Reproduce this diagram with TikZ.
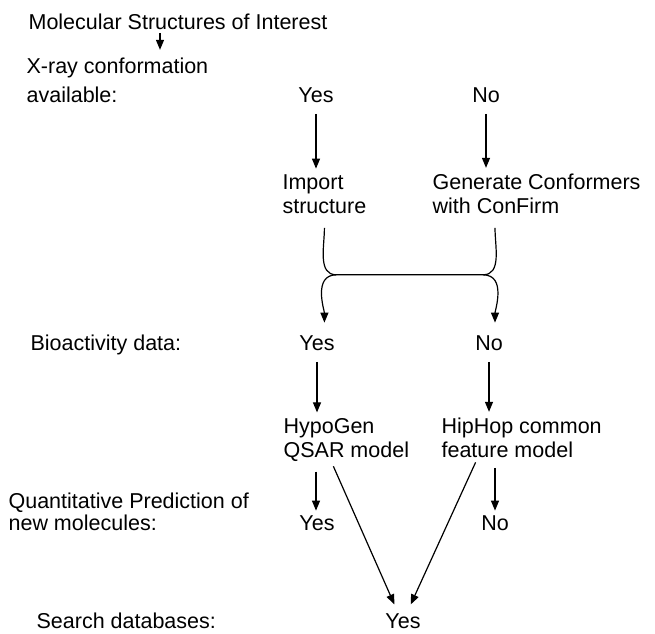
\documentclass[tikz,border=0pt]{standalone}
\usepackage{fontspec}
\setmainfont{Liberation Sans}
\usetikzlibrary{arrows.meta,positioning}

\begin{document}
\begin{tikzpicture}[x=1pt, y=-1pt, line width=1.2pt,
font=\fontsize{21.5}{24}\selectfont,
>={Triangle[length=10pt,width=8pt]},
txt/.style={inner sep=0pt, anchor=base west, align=left},
ans/.style={inner sep=0pt, anchor=base},
flow/.style={->, shorten <=11pt, shorten >=5pt}]
\useasboundingbox (0,0) rectangle (655,633);

% questions on the left (base = last line)
\node [txt] (mol) at (28,29) {Molecular Structures of Interest};
\node [txt] (xray) at (26,102) {X-ray conformation\\[5pt]available:};
\node [txt] (bio) at (30,350) {Bioactivity data:};
\node [txt] (quant) at (8,530) {Quantitative Prediction of\\[-2pt]new molecules:};
\node [txt] (search) at (36,628) {Search databases:};

% answers and steps
\node [ans] (yes1) at (316,102) {Yes};
\node [ans] (no1) at (486,102) {No};
\node [txt] (imp) at (282,213) {Import\\structure};
\node [txt] (gen) at (432,213) {Generate Conformers\\with ConFirm};
\node [ans] (yes2) at (317,350) {Yes};
\node [ans] (no2) at (489,350) {No};
\node [txt] (hypo) at (283,457) {HypoGen\\QSAR model};
\node [txt] (hip) at (441,457) {HipHop common\\feature model};
\node [ans] (yes3) at (317,530) {Yes};
\node [ans] (no3) at (495,530) {No};
\node [ans] (yes4) at (403,628) {Yes};

% small arrow under the title
\coordinate (c1) at (160,0);
\draw [->, shorten <=3pt, shorten >=7pt] (mol.south -| c1) -- (xray.north -| c1);

\path [flow]
(yes1) edge (yes1 |- imp.north)
(no1) edge (no1 |- gen.north)
(yes2) edge (yes2 |- hypo.north)
(no2) edge (no2 |- hip.north);

% both branches join again
\coordinate (tl) at ([yshift=-14pt]imp.south);
\coordinate (tr) at (tl -| no3);
\coordinate (jl) at ([xshift=12pt,yshift=-47pt]tl);
\coordinate (jr) at ([xshift=-12pt,yshift=-47pt]tr);
\draw (tl) to [out=-90, in=180] (jl) -- (jr) to [out=0, in=-90] (tr);
\draw [->, shorten >=12pt] (jl) to [out=180, in=90] (yes2.north -| tl);
\draw [->, shorten >=12pt] (jr) to [out=0, in=90] (no2.north -| tr);

\path [->, shorten <=10pt, shorten >=4pt]
(hypo.south -| yes1) edge (yes3.north -| yes1)
(hip.south -| no3) edge (no3.north);
\path [->, shorten <=5pt, shorten >=9pt]
([xshift=-15pt]hypo.south) edge ([xshift=-5pt]yes4.north)
([xshift=-44pt]hip.south) edge ([xshift=4pt]yes4.north);
\end{tikzpicture}
\end{document}
